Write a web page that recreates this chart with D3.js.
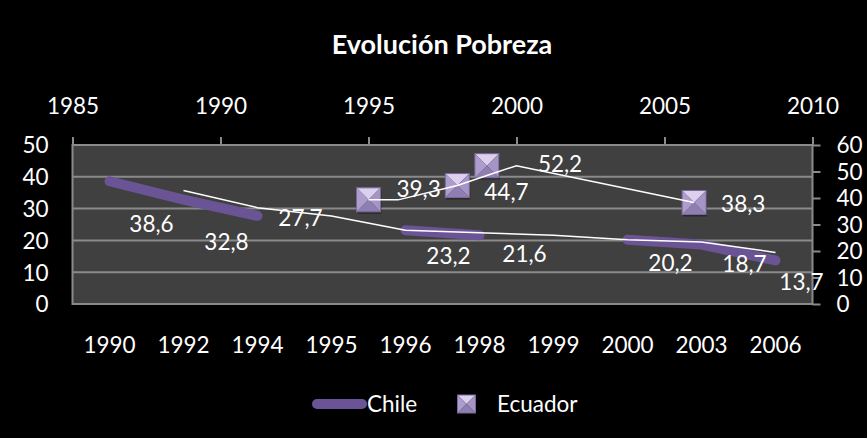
<!DOCTYPE html>
<html>
<head>
<meta charset="utf-8">
<script src="https://cdn.jsdelivr.net/npm/d3@7"></script>
<style>
  html, body { margin: 0; padding: 0; background: #000; }
  svg { display: block; }
  text { font-family: Lato, "Liberation Sans", sans-serif; fill: #fff; }
</style>
</head>
<body>
<svg width="867" height="438"></svg>
<script>
// Evolución Pobreza: Chile (line, primary axes) + Ecuador (scatter, secondary axes)
var categories = ["1990", "1992", "1994", "1995", "1996", "1998", "1999", "2000", "2003", "2006"];
var chile = [38.6, 32.8, 27.7, null, 23.2, 21.6, null, 20.2, 18.7, 13.7];
// thin white line that follows Chile
var chileTrend = [null, 35.7, 30.3, 27.7, 23.2, 22.4, 21.6, 20.2, 19.5, 16.2];

var ecuadorYears = [1995, 1998, 1999, 2006];
var ecuador = [39.3, 44.7, 52.2, 38.3];
// thin white line that follows Ecuador
var ecuadorTrendYears = [1995, 1996, 1998, 1999, 2000, 2006];
var ecuadorTrend = [39.3, 39.3, 44.7, 48.5, 52.2, 38.3];

var leftTicks = [0, 10, 20, 30, 40, 50];
var rightTicks = [0, 10, 20, 30, 40, 50, 60];
var topTicks = [1985, 1990, 1995, 2000, 2005, 2010];

var svg = d3.select("svg"),
	plot = {left: 72.5, right: 812.5, top: 145, bottom: 304},
	fontSize = 22.5,
	purple = "#6b5496",
	grid = "#8a8a8a";

var fmt = d3.formatLocale({decimal: ",", thousands: ".", grouping: [3], currency: ["", ""]}).format(".1f");

// scales
var x = d3.scaleBand().domain(categories).range([plot.left, plot.right]);
var yL = d3.scaleLinear().domain([0, 50]).range([plot.bottom, plot.top]);
var xTop = d3.scaleLinear().domain([1985, 2010]).range([plot.left, plot.right]);
var yR = d3.scaleLinear().domain([0, 60]).range([plot.bottom, plot.top]);
var cx = function(i) { return x(categories[i]) + x.bandwidth() / 2; };

// title
svg.append("text")
	.attr("x", 442)
	.attr("y", 45)
	.attr("dy", "0.35em")
	.attr("text-anchor", "middle")
	.attr("font-weight", "bold")
	.attr("font-size", 27)
	.text("Evolución Pobreza");

// plot area
svg.append("rect")
	.attr("x", plot.left)
	.attr("y", plot.top)
	.attr("width", plot.right - plot.left)
	.attr("height", plot.bottom - plot.top)
	.attr("fill", "#404040");

svg.append("g")
	.selectAll("line")
	.data(leftTicks.slice(1, -1))
	.enter().append("line")
		.attr("x1", plot.left)
		.attr("x2", plot.right)
		.attr("y1", function(d) { return yL(d); })
		.attr("y2", function(d) { return yL(d); })
		.attr("stroke", grid)
		.attr("stroke-width", 2);

svg.append("rect")
	.attr("x", plot.left)
	.attr("y", plot.top)
	.attr("width", plot.right - plot.left)
	.attr("height", plot.bottom - plot.top)
	.attr("fill", "none")
	.attr("stroke", grid)
	.attr("stroke-width", 2);

// axes
function styleAxis(g) {
	g.attr("font-family", null).attr("font-size", fontSize);
	g.select(".domain").remove();
	g.selectAll(".tick line").attr("stroke", grid).attr("stroke-width", 2);
	g.selectAll("text").attr("dy", "0.35em");
}

svg.append("g")
	.attr("transform", "translate(" + plot.left + ",0)")
	.call(d3.axisLeft(yL).tickValues(leftTicks).tickSize(0).tickPadding(24))
	.call(styleAxis);

svg.append("g")
	.attr("transform", "translate(" + plot.right + ",0)")
	.call(d3.axisRight(yR).tickValues(rightTicks).tickSize(8).tickPadding(16))
	.call(styleAxis);

svg.append("g")
	.attr("transform", "translate(0," + plot.top + ")")
	.call(d3.axisTop(xTop).tickValues(topTicks).tickFormat(d3.format("d")).tickSize(8))
	.call(styleAxis)
	.selectAll("text").attr("y", -39);

svg.append("g")
	.attr("transform", "translate(0," + plot.bottom + ")")
	.call(d3.axisBottom(x).tickSize(0))
	.call(styleAxis)
	.selectAll("text").attr("y", 41);

// Chile thick line
var chileLine = d3.line()
	.defined(function(d) { return d != null; })
	.x(function(d, i) { return cx(i); })
	.y(function(d) { return yL(d); });

svg.append("path")
	.datum(chile)
	.attr("d", chileLine)
	.attr("fill", "none")
	.attr("stroke", purple)
	.attr("stroke-width", 10)
	.attr("stroke-linecap", "round")
	.attr("stroke-linejoin", "round");

// Ecuador markers
function marker(g, s) {
	var h = s / 2;
	g.append("rect")
		.attr("x", -h + 1).attr("y", -h + 2)
		.attr("width", s).attr("height", s)
		.attr("fill", "#000").attr("opacity", 0.35);
	var faces = [
		{pts: [[-h, -h], [h, -h], [0, 0]], fill: "#ddd0ef"},
		{pts: [[h, -h], [h, h], [0, 0]], fill: "#a595c6"},
		{pts: [[h, h], [-h, h], [0, 0]], fill: "#8f7eb2"},
		{pts: [[-h, h], [-h, -h], [0, 0]], fill: "#ad9dcd"}
	];
	g.selectAll("polygon")
		.data(faces)
		.enter().append("polygon")
			.attr("points", function(d) { return d.pts.join(" "); })
			.attr("fill", function(d) { return d.fill; });
	g.append("rect")
		.attr("x", -h).attr("y", -h)
		.attr("width", s).attr("height", s)
		.attr("fill", "none")
		.attr("stroke", "#7a6a9c")
		.attr("stroke-width", 1);
}

svg.append("g")
	.selectAll("g")
	.data(ecuador)
	.enter().append("g")
		.attr("transform", function(d, i) { return "translate(" + xTop(ecuadorYears[i]) + "," + yR(d) + ")"; })
		.each(function() { marker(d3.select(this), 24); });

// thin white lines
svg.append("path")
	.datum(chileTrend)
	.attr("d", chileLine)
	.attr("fill", "none")
	.attr("stroke", "#fff")
	.attr("stroke-width", 1.5);

svg.append("path")
	.datum(ecuadorTrend)
	.attr("d", d3.line()
		.x(function(d, i) { return xTop(ecuadorTrendYears[i]); })
		.y(function(d) { return yR(d); }))
	.attr("fill", "none")
	.attr("stroke", "#fff")
	.attr("stroke-width", 1.5);

// data labels (nudged like the original)
var chileNudge = [[42, 43], [43, 42], [43, 2], [0, 0], [43, 26], [45, 19], [0, 0], [43, 23], [43, 20], [26, 22]];
svg.append("g")
	.attr("font-size", fontSize)
	.attr("text-anchor", "middle")
	.selectAll("text")
	.data(chile.map(function(v, i) { return {v: v, i: i}; }).filter(function(d) { return d.v != null; }))
	.enter().append("text")
		.attr("x", function(d) { return cx(d.i) + chileNudge[d.i][0]; })
		.attr("y", function(d) { return yL(d.v) + chileNudge[d.i][1]; })
		.attr("dy", "0.35em")
		.text(function(d) { return fmt(d.v); });

var ecuadorNudge = [[28, -11], [27, 7], [51, -2], [27, 2]];
svg.append("g")
	.attr("font-size", fontSize)
	.selectAll("text")
	.data(ecuador)
	.enter().append("text")
		.attr("x", function(d, i) { return xTop(ecuadorYears[i]) + ecuadorNudge[i][0]; })
		.attr("y", function(d, i) { return yR(d) + ecuadorNudge[i][1]; })
		.attr("dy", "0.35em")
		.text(function(d) { return fmt(d); });

// legend
var legend = svg.append("g").attr("font-size", fontSize);
legend.append("line")
	.attr("x1", 317).attr("x2", 362)
	.attr("y1", 404).attr("y2", 404)
	.attr("stroke", purple)
	.attr("stroke-width", 10)
	.attr("stroke-linecap", "round");
legend.append("text")
	.attr("x", 367).attr("y", 404).attr("dy", "0.35em")
	.text("Chile");
legend.append("g")
	.attr("transform", "translate(466.5,404)")
	.call(marker, 18);
legend.append("text")
	.attr("x", 497).attr("y", 404).attr("dy", "0.35em")
	.text("Ecuador");
</script>
</body>
</html>
